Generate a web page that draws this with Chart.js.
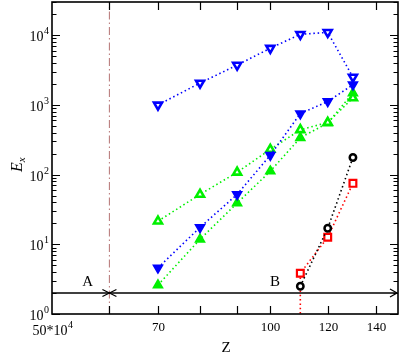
<!DOCTYPE html>
<html>
<head>
<meta charset="utf-8">
<script src="https://cdn.jsdelivr.net/npm/chart.js@4"></script>
<style>
  html, body { margin: 0; padding: 0; background: #fff; }
  #wrap { width: 401px; height: 355px; }
</style>
</head>
<body>
<div id="wrap"><canvas id="chart"></canvas></div>
<script>
// Z values of the points
const zValues = [70, 80, 90, 100, 110, 120, 130];
const blueOpen = [1000, 2060, 3730, 6520, 10300, 11000, 2510];
const blueFilled = [4.6, 17.5, 52, 190, 750, 1120, 1950];
const greenOpen = [21.5, 52, 108, 230, 440, 560, 1260];
const greenFilled = [2.6, 11.8, 39, 112, 338, 550, 1480];

const zHeavy = [110, 120, 130];
const blackCircles = [2.5, 17, 176];
const redSquares = [3.85, 12.6, 75];
const redDropZ = 110;
const redDropValue = 0.5;

// reference line A -> B
const guideValue = 2;
const guideRange = [50, 150];
const markerZ = 60;
const notes = [
  { text: "A", z: 56, e: 2.9 },
  { text: "B", z: 101.5, e: 2.9 },
];

const xTicks = [50, 60, 70, 80, 90, 100, 120, 140];
const xTickLabels = { 50: ["50*10", "4"], 70: ["70"], 100: ["100"], 120: ["120"], 140: ["140"] };
const yDecades = [0, 1, 2, 3, 4];
const yRange = [1, 30000];
const xRange = [50, 150];

const serif = "'Liberation Serif', 'DejaVu Serif', serif";

const toPoints = (xs, ys) => xs.map((x, i) => ({ x: x, y: ys[i] }));

const dotted = {
  borderWidth: 1.6,
  borderDash: [1.5, 2.8],
  showLine: true,
  fill: false,
};

// frame, inward ticks, labels and the A-B line
const decorPlugin = {
  id: "decor",
  afterDatasetsDraw(chart) {
    const { ctx, chartArea: a, scales } = chart;
    const xs = scales.x, ys = scales.y;
    ctx.save();
    ctx.strokeStyle = "#000";
    ctx.fillStyle = "#000";

    // the A-B line
    const gy = ys.getPixelForValue(guideValue);
    const gx0 = xs.getPixelForValue(guideRange[0]);
    const gx1 = xs.getPixelForValue(guideRange[1]) - 1;
    ctx.lineWidth = 1.3;
    ctx.beginPath();
    ctx.moveTo(gx0, gy);
    ctx.lineTo(gx1, gy);
    ctx.stroke();
    ctx.beginPath();
    ctx.moveTo(gx1 - 7, gy - 4);
    ctx.lineTo(gx1, gy);
    ctx.lineTo(gx1 - 7, gy + 4);
    ctx.stroke();
    // cross at Z = 60
    const mx = xs.getPixelForValue(markerZ);
    ctx.beginPath();
    ctx.moveTo(mx - 7, gy - 3.5);
    ctx.lineTo(mx + 7, gy + 3.5);
    ctx.moveTo(mx - 7, gy + 3.5);
    ctx.lineTo(mx + 7, gy - 3.5);
    ctx.stroke();

    ctx.font = "15px " + serif;
    ctx.textAlign = "center";
    ctx.textBaseline = "middle";
    notes.forEach((n) => {
      ctx.fillText(n.text, xs.getPixelForValue(n.z), ys.getPixelForValue(n.e));
    });

    // frame
    ctx.lineWidth = 1.6;
    ctx.strokeRect(a.left, a.top, a.right - a.left, a.bottom - a.top);

    // x ticks
    ctx.lineWidth = 1.2;
    xTicks.forEach((v) => {
      const px = Math.round(xs.getPixelForValue(v)) + 0.5;
      if (v > xRange[0]) {
        ctx.beginPath();
        ctx.moveTo(px, a.bottom);
        ctx.lineTo(px, a.bottom - 8);
        ctx.moveTo(px, a.top);
        ctx.lineTo(px, a.top + 8);
        ctx.stroke();
      }
      const lab = xTickLabels[v];
      if (lab) {
        ctx.textBaseline = "alphabetic";
        if (lab.length === 1) {
          ctx.font = "13px " + serif;
          ctx.textAlign = "center";
          ctx.fillText(lab[0], px, a.bottom + 17);
        } else {
          ctx.font = "14px " + serif;
          const w0 = ctx.measureText(lab[0]).width;
          ctx.font = "10px " + serif;
          const w1 = ctx.measureText(lab[1]).width;
          const left = px - (w0 + w1) / 2;
          ctx.textAlign = "left";
          ctx.fillText(lab[1], left + w0 + 0.5, a.bottom + 14);
          ctx.font = "14px " + serif;
          ctx.fillText(lab[0], left, a.bottom + 21);
        }
      }
    });

    // y ticks
    yDecades.forEach((d) => {
      for (let m = 1; m <= 9; m++) {
        const v = m * Math.pow(10, d);
        if (v < yRange[0] || v > yRange[1]) continue;
        const py = Math.round(ys.getPixelForValue(v)) + 0.5;
        const len = m === 1 ? 8 : 4.5;
        ctx.beginPath();
        ctx.moveTo(a.left, py);
        ctx.lineTo(a.left + len, py);
        ctx.moveTo(a.right, py);
        ctx.lineTo(a.right - len, py);
        ctx.stroke();
      }
      const py = ys.getPixelForValue(Math.pow(10, d));
      ctx.textAlign = "right";
      ctx.textBaseline = "alphabetic";
      ctx.font = "10px " + serif;
      const ew = ctx.measureText(String(d)).width;
      ctx.fillText(String(d), a.left - 3, py - 1);
      ctx.font = "14px " + serif;
      ctx.fillText("10", a.left - 3 - ew - 0.5, py + 6);
    });

    // axis titles
    ctx.font = "15px " + serif;
    ctx.textAlign = "center";
    ctx.textBaseline = "middle";
    ctx.fillText("Z", 226, 348);

    ctx.translate(17, 166);
    ctx.rotate(-Math.PI / 2);
    ctx.textAlign = "left";
    ctx.textBaseline = "alphabetic";
    ctx.font = "italic 16px " + serif;
    ctx.fillText("E", -6, 5);
    const ewid = ctx.measureText("E").width;
    ctx.font = "italic 11px " + serif;
    ctx.fillText("x", -6 + ewid, 8);
    ctx.restore();
  },
};

new Chart(document.getElementById("chart"), {
  type: "scatter",
  data: {
    datasets: [
      {
        data: [{ x: markerZ, y: yRange[0] }, { x: markerZ, y: yRange[1] }],
        borderColor: "#bc8080",
        borderWidth: 1.1,
        borderDash: [8, 3, 1.5, 3],
        showLine: true,
        pointRadius: 0,
        order: 9,
      },
      {
        ...dotted,
        data: toPoints(zValues, blueOpen),
        borderColor: "#0000ff",
        backgroundColor: "#ffffff",
        pointBorderColor: "#0000ff",
        pointBorderWidth: 2.6,
        pointStyle: "triangle",
        rotation: 180,
        pointRadius: 4.6,
      },
      {
        ...dotted,
        data: toPoints(zValues, blueFilled),
        borderColor: "#0000ff",
        backgroundColor: "#0000ff",
        pointStyle: "triangle",
        rotation: 180,
        pointRadius: 5.2,
      },
      {
        ...dotted,
        data: toPoints(zValues, greenOpen),
        borderColor: "#00f000",
        backgroundColor: "#ffffff",
        pointBorderColor: "#00f000",
        pointBorderWidth: 2.6,
        pointStyle: "triangle",
        pointRadius: 4.6,
      },
      {
        ...dotted,
        data: toPoints(zValues, greenFilled),
        borderColor: "#00f000",
        backgroundColor: "#00f000",
        pointStyle: "triangle",
        pointRadius: 5.2,
      },
      {
        ...dotted,
        data: toPoints(zHeavy, blackCircles),
        borderColor: "#000000",
        backgroundColor: "#ffffff",
        pointBorderColor: "#000000",
        pointBorderWidth: 2.5,
        pointStyle: "circle",
        pointRadius: 3.2,
      },
      {
        ...dotted,
        data: [{ x: redDropZ, y: redDropValue }].concat(toPoints(zHeavy, redSquares)),
        borderColor: "#ff0000",
        backgroundColor: "#ffffff",
        pointBorderColor: "#ff0000",
        pointBorderWidth: 2.2,
        pointStyle: "rect",
        pointRadius: [0, 4.8, 4.8, 4.8],
      },
    ],
  },
  options: {
    responsive: true,
    maintainAspectRatio: false,
    animation: false,
    layout: { autoPadding: false, padding: { left: 52, right: 3, top: 2, bottom: 41 } },
    plugins: { legend: { display: false }, tooltip: { enabled: false } },
    scales: {
      x: { type: "logarithmic", min: xRange[0], max: xRange[1], display: false },
      y: { type: "logarithmic", min: yRange[0], max: yRange[1], display: false },
    },
  },
  plugins: [decorPlugin],
});
</script>
</body>
</html>
